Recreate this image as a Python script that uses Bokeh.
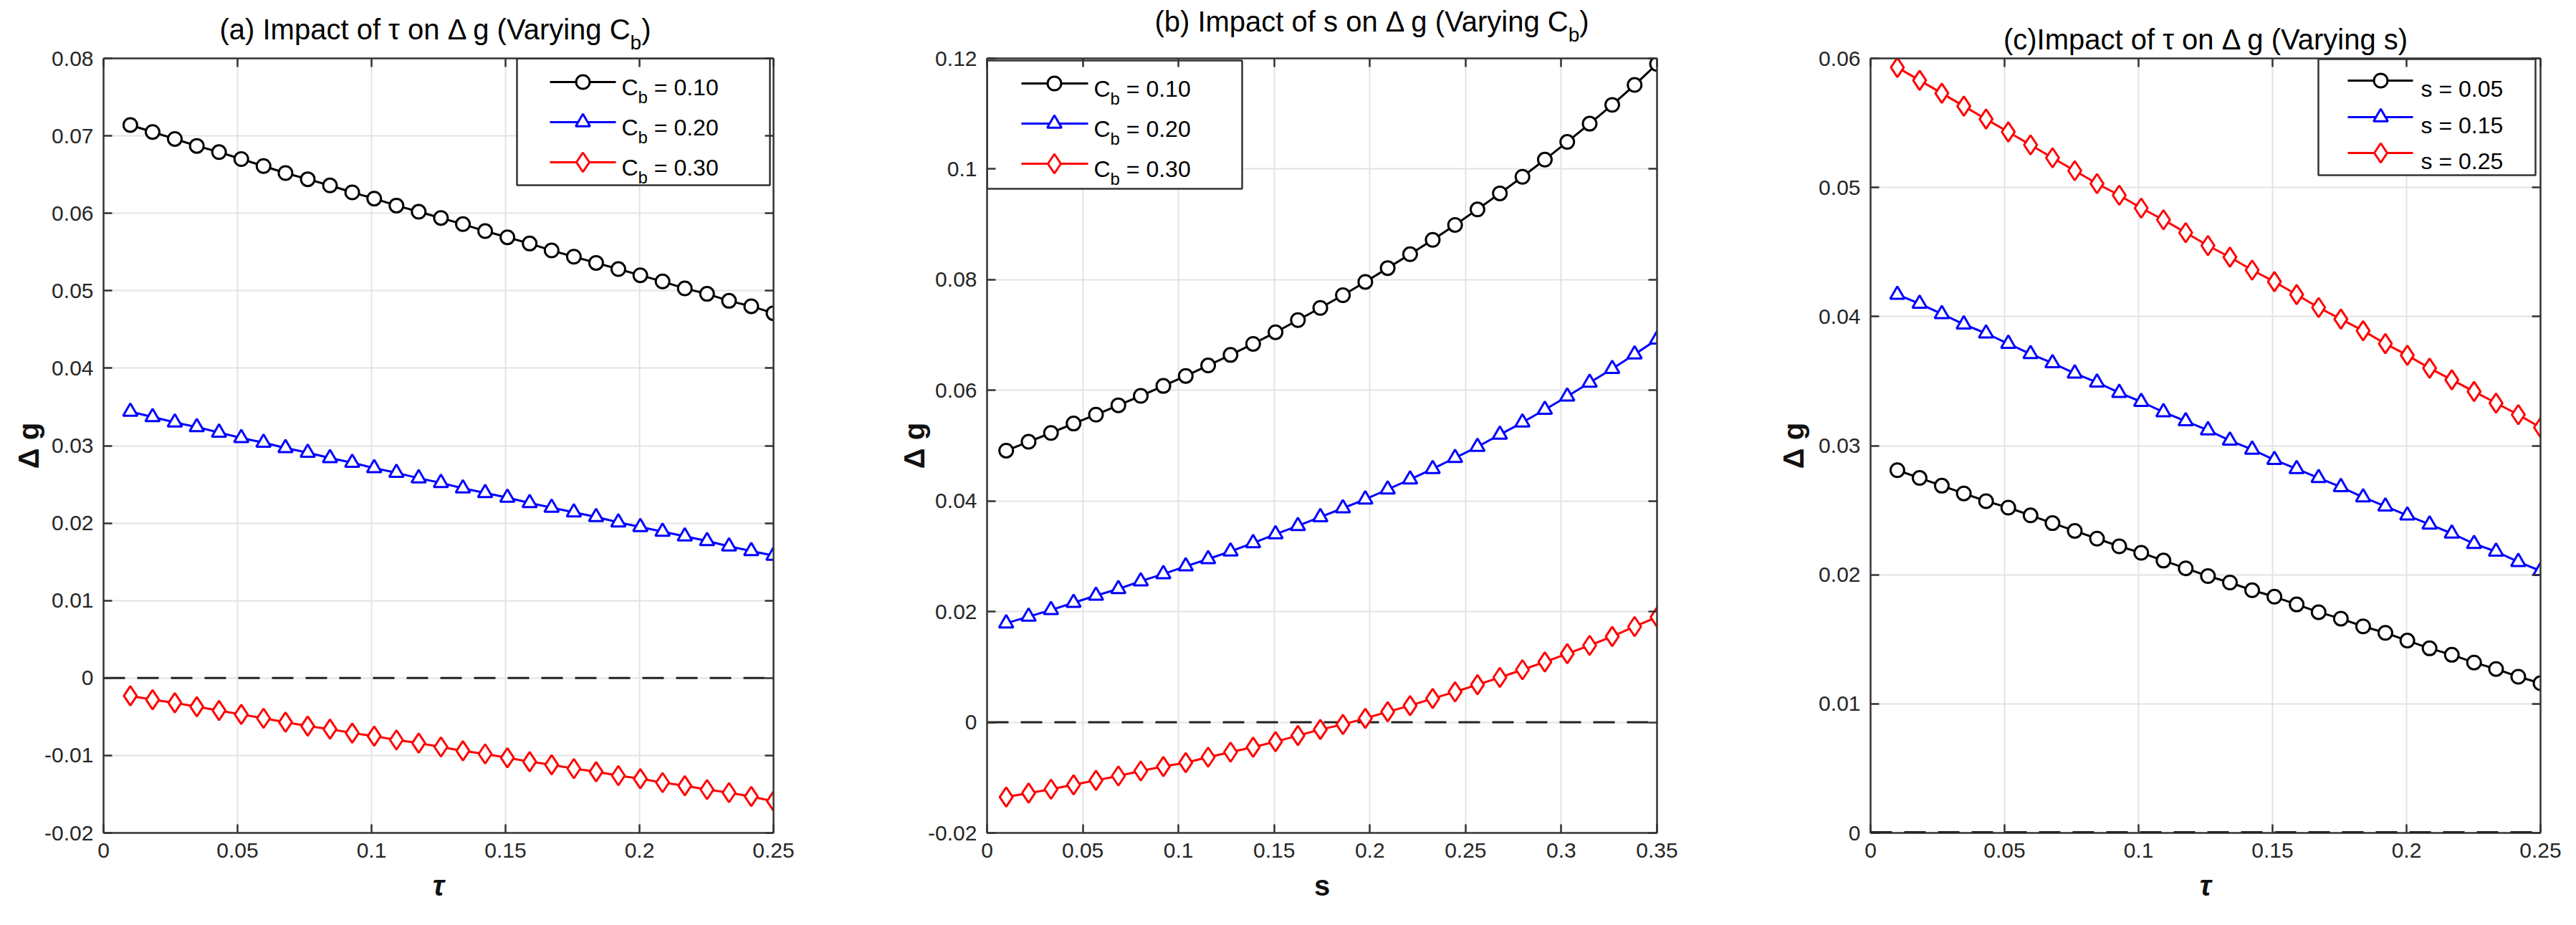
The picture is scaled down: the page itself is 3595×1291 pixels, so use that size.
from bokeh.plotting import figure
from bokeh.models import FixedTicker, LinearAxis, Label, Span, Range1d, Div
from bokeh.layouts import row, column
from bokeh.embed import file_html
from bokeh.resources import INLINE

# ---------------- data ----------------
tau = [0.0100, 0.0183, 0.0266, 0.0348, 0.0431, 0.0514, 0.0597, 0.0679, 0.0762, 0.0845,
       0.0928, 0.1010, 0.1093, 0.1176, 0.1259, 0.1341, 0.1424, 0.1507, 0.1590, 0.1672,
       0.1755, 0.1838, 0.1921, 0.2003, 0.2086, 0.2169, 0.2252, 0.2334, 0.2417, 0.2500]
s_grid = [0.0100, 0.0217, 0.0334, 0.0452, 0.0569, 0.0686, 0.0803, 0.0921, 0.1038, 0.1155,
          0.1272, 0.1390, 0.1507, 0.1624, 0.1741, 0.1859, 0.1976, 0.2093, 0.2210, 0.2328,
          0.2445, 0.2562, 0.2679, 0.2797, 0.2914, 0.3031, 0.3148, 0.3266, 0.3383, 0.3500]

# (a) impact of tau, varying Cb
dg_a_cb010 = [0.0714, 0.0705, 0.0696, 0.0687, 0.0679, 0.0670, 0.0661, 0.0652, 0.0644, 0.0636,
              0.0627, 0.0619, 0.0610, 0.0602, 0.0594, 0.0586, 0.0577, 0.0569, 0.0561, 0.0552,
              0.0544, 0.0536, 0.0528, 0.0520, 0.0512, 0.0503, 0.0496, 0.0487, 0.0480, 0.0471]
dg_a_cb020 = [0.0344, 0.0337, 0.0330, 0.0324, 0.0317, 0.0310, 0.0304, 0.0297, 0.0291, 0.0284,
              0.0278, 0.0271, 0.0265, 0.0258, 0.0252, 0.0245, 0.0239, 0.0233, 0.0226, 0.0220,
              0.0214, 0.0208, 0.0201, 0.0195, 0.0189, 0.0183, 0.0177, 0.0170, 0.0164, 0.0158]
dg_a_cb030 = [-0.0023, -0.0028, -0.0032, -0.0037, -0.0042, -0.0047, -0.0052, -0.0057, -0.0062, -0.0066,
              -0.0071, -0.0075, -0.0080, -0.0084, -0.0089, -0.0094, -0.0098, -0.0103, -0.0108, -0.0112,
              -0.0117, -0.0121, -0.0126, -0.0130, -0.0135, -0.0139, -0.0144, -0.0148, -0.0153, -0.0159]

# (b) impact of s, varying Cb
dg_b_cb010 = [0.0491, 0.0507, 0.0523, 0.0540, 0.0556, 0.0573, 0.0590, 0.0608, 0.0626, 0.0645,
              0.0664, 0.0684, 0.0705, 0.0727, 0.0749, 0.0772, 0.0796, 0.0821, 0.0846, 0.0872,
              0.0899, 0.0927, 0.0956, 0.0986, 0.1017, 0.1049, 0.1082, 0.1116, 0.1152, 0.1190]
dg_b_cb020 = [0.0179, 0.0191, 0.0203, 0.0216, 0.0229, 0.0241, 0.0255, 0.0268, 0.0282, 0.0295,
              0.0309, 0.0324, 0.0340, 0.0355, 0.0371, 0.0387, 0.0403, 0.0421, 0.0439, 0.0458,
              0.0478, 0.0498, 0.0520, 0.0542, 0.0565, 0.0589, 0.0614, 0.0639, 0.0665, 0.0692]
dg_b_cb030 = [-0.0135, -0.0128, -0.0121, -0.0113, -0.0105, -0.0097, -0.0088, -0.0080, -0.0073, -0.0063,
              -0.0054, -0.0045, -0.0035, -0.0024, -0.0013, -0.0004, 0.0007, 0.0019, 0.0030, 0.0043,
              0.0055, 0.0068, 0.0081, 0.0095, 0.0109, 0.0124, 0.0139, 0.0155, 0.0173, 0.0190]

# (c) impact of tau, varying s
dg_c_s005 = [0.0281, 0.0275, 0.0269, 0.0263, 0.0257, 0.0252, 0.0246, 0.0240, 0.0234, 0.0228,
             0.0222, 0.0217, 0.0211, 0.0205, 0.0199, 0.0194, 0.0188, 0.0183, 0.0177, 0.0171,
             0.0166, 0.0160, 0.0155, 0.0149, 0.0143, 0.0138, 0.0132, 0.0127, 0.0121, 0.0116]
dg_c_s015 = [0.0417, 0.0410, 0.0402, 0.0394, 0.0387, 0.0379, 0.0371, 0.0364, 0.0356, 0.0349,
             0.0341, 0.0334, 0.0326, 0.0319, 0.0312, 0.0304, 0.0297, 0.0289, 0.0282, 0.0275,
             0.0268, 0.0260, 0.0253, 0.0246, 0.0239, 0.0232, 0.0224, 0.0218, 0.0210, 0.0203]
dg_c_s025 = [0.0593, 0.0583, 0.0573, 0.0563, 0.0553, 0.0543, 0.0533, 0.0523, 0.0513, 0.0503,
             0.0494, 0.0484, 0.0475, 0.0465, 0.0455, 0.0446, 0.0436, 0.0427, 0.0417, 0.0407,
             0.0398, 0.0389, 0.0379, 0.0370, 0.0360, 0.0351, 0.0342, 0.0333, 0.0324, 0.0314]

cb_values = ["= 0.10", "= 0.20", "= 0.30"]
s_legend = ["s = 0.05", "s = 0.15", "s = 0.25"]

xticks_tau = [0.0, 0.05, 0.1, 0.15, 0.2, 0.25]
xlabels_tau = ["0", "0.05", "0.1", "0.15", "0.2", "0.25"]
xticks_s = [0.0, 0.05, 0.1, 0.15, 0.2, 0.25, 0.3, 0.35]
xlabels_s = ["0", "0.05", "0.1", "0.15", "0.2", "0.25", "0.3", "0.35"]
yticks_a = [-0.02, -0.01, 0.0, 0.01, 0.02, 0.03, 0.04, 0.05, 0.06, 0.07, 0.08]
ylabels_a = ["-0.02", "-0.01", "0", "0.01", "0.02", "0.03", "0.04", "0.05", "0.06", "0.07", "0.08"]
yticks_b = [-0.02, 0.0, 0.02, 0.04, 0.06, 0.08, 0.1, 0.12]
ylabels_b = ["-0.02", "0", "0.02", "0.04", "0.06", "0.08", "0.1", "0.12"]
yticks_c = [0.0, 0.01, 0.02, 0.03, 0.04, 0.05, 0.06]
ylabels_c = ["0", "0.01", "0.02", "0.03", "0.04", "0.05", "0.06"]

title_a = ("(a) Impact of τ on Δ g (Varying C", "b", ")")
title_b = ("(b) Impact of s on Δ g (Varying C", "b", ")")
title_c = ("(c)Impact of τ on Δ g (Varying s)", "", "")

# ---------------- styling ----------------
FONT = "Liberation Sans"
AX = "#333333"
TXT = "#262626"
FRAME_W, FRAME_H = 935, 1081
TOP = 89            # page y of frame top
HT = 61             # height of the title strip (page y 8 .. 69)
TOPB = TOP - 8 - HT  # top border of each panel
LW = 3
MK = {"circle": 19, "triangle": 20, "diamond": 27}


def label(p, x, y, text, size, align="left", style="normal", color="#000000"):
    p.add_layout(Label(x=x, y=y, x_units="data", y_units="data", text=text,
                       text_font=FONT, text_font_size=f"{size}px", text_font_style=style,
                       text_color=color, text_align=align, text_baseline="alphabetic"))


def build(frame_left, xr, yr, xt, xl, yt, yl, xlab, xstyle, min_right, ylab_standoff):
    p = figure(frame_width=FRAME_W, frame_height=FRAME_H,
               x_range=Range1d(*xr), y_range=Range1d(*yr),
               output_backend="svg", toolbar_location=None,
               min_border_left=144, min_border_right=min_right,
               min_border_top=TOPB, min_border_bottom=110,
               background_fill_color="white", border_fill_color=None,
               outline_line_color=None)
    xax = p.below[0]
    yax = p.left[0]
    xtk = FixedTicker(ticks=xt)
    ytk = FixedTicker(ticks=yt)
    xax.ticker = xtk
    yax.ticker = ytk
    xax.major_label_overrides = dict(zip(xt, xl))
    yax.major_label_overrides = dict(zip(yt, yl))
    top_ax = LinearAxis(ticker=xtk, major_label_overrides={t: "" for t in xt})
    right_ax = LinearAxis(ticker=ytk, major_label_overrides={t: "" for t in yt})
    for ax in (xax, yax, top_ax, right_ax):
        ax.axis_line_color = AX
        ax.axis_line_width = 2.5
        ax.major_tick_line_color = AX
        ax.major_tick_line_width = 2.5
        ax.major_tick_in = 12
        ax.major_tick_out = 0
        ax.minor_tick_line_color = None
        ax.major_label_text_font = FONT
        ax.major_label_text_font_size = "30px"
        ax.major_label_text_color = TXT
        ax.major_label_standoff = 14
    for ax in (top_ax, right_ax):
        ax.major_label_text_font_size = "0px"
        ax.major_label_standoff = 0
    p.add_layout(top_ax, "above")
    p.add_layout(right_ax, "right")
    xax.axis_label = xlab
    xax.axis_label_text_font = FONT
    xax.axis_label_text_font_size = "40px"
    xax.axis_label_text_font_style = xstyle
    xax.axis_label_text_color = "#111111"
    xax.axis_label_standoff = 14
    yax.axis_label = "Δ g"
    yax.axis_label_text_font = FONT
    yax.axis_label_text_font_size = "40px"
    yax.axis_label_text_font_style = "bold"
    yax.axis_label_text_color = "#111111"
    yax.axis_label_standoff = ylab_standoff
    p.xgrid.ticker = xtk
    p.ygrid.ticker = ytk
    p.xgrid.grid_line_color = "#e3e3e3"
    p.ygrid.grid_line_color = "#e3e3e3"
    p.xgrid.grid_line_width = 2
    p.ygrid.grid_line_width = 2

    def X(px):
        return xr[0] + (px - frame_left) / FRAME_W * (xr[1] - xr[0])

    def Y(py):
        return yr[1] - (py - TOP) / FRAME_H * (yr[1] - yr[0])

    return p, X, Y


def title_div(width, fig_left, center_px, baseline_px, parts):
    main, sub, tail = parts
    left = center_px - fig_left - 450
    top = baseline_px - 8 - 34
    sub_html = (f'<span style="font-size:28px;position:relative;top:14px;">{sub}</span>'
                if sub else "")
    html = (f'<div style="position:relative;width:{width}px;height:{HT}px;overflow:visible;">'
            f'<div style="position:absolute;left:{left:.1f}px;top:{top:.1f}px;width:900px;'
            f"text-align:center;font-family:'{FONT}';font-size:40px;line-height:40px;"
            f'white-space:nowrap;color:#000000;">{main}{sub_html}{tail}</div></div>')
    return Div(text=html, width=width, height=HT, margin=0,
               styles={"overflow": "visible", "z-index": "1"})


def series(p, x, y, color, marker):
    p.line(x, y, line_color=color, line_width=LW)
    p.scatter(x, y, marker=marker, size=MK[marker], line_color=color,
              fill_color="white", line_width=LW)


def zero_line(p, level, width=3):
    p.add_layout(Span(location=0, dimension="width", line_color="#222222",
                      line_width=width, line_dash="30 17", level=level))


def legend(p, X, Y, box, ys, offs, entries, with_sub, base_dy):
    l, t, r, b = box
    p.quad(left=[X(l)], right=[X(r)], top=[Y(t)], bottom=[Y(b)],
           fill_color="white", line_color=AX, line_width=2.5)
    lx0, lx1, mx, tx = offs
    for (color, marker, lab), ly in zip(entries, ys):
        p.line([X(l + lx0), X(l + lx1)], [Y(ly), Y(ly)], line_color=color, line_width=LW)
        p.scatter([X(l + mx)], [Y(ly)], marker=marker, size=MK[marker],
                  line_color=color, fill_color="white", line_width=LW)
        x0 = l + tx
        if with_sub:
            label(p, X(x0), Y(ly + base_dy), "C", 32)
            label(p, X(x0 + 0.722 * 32), Y(ly + 21), "b", 24)
            label(p, X(x0 + 0.722 * 32 + 0.556 * 24 + 0.278 * 32), Y(ly + base_dy), lab, 32)
        else:
            label(p, X(x0), Y(ly + base_dy), lab, 32)


colors = ["#000000", "#0000ff", "#ff0000"]
markers = ["circle", "triangle", "diamond"]
W1, W2, W3 = 144 + FRAME_W + 154, 144 + FRAME_W + 154, 144 + FRAME_W + 30

# ---------------- panel (a) ----------------
pa, Xa, Ya = build(152, (0, 0.25), (-0.02, 0.08), xticks_tau, xlabels_tau,
                   yticks_a, ylabels_a, "τ", "bold italic", 154, -3)
zero_line(pa, "underlay")
for ys_, c, m in zip((dg_a_cb010, dg_a_cb020, dg_a_cb030), colors, markers):
    series(pa, tau, ys_, c, m)
legend(pa, Xa, Ya, (729, 89, 1082, 266), (122, 178, 234), (46, 138, 92, 146),
       list(zip(colors, markers, cb_values)), True, 7)
ta = title_div(W1, 8, 615.5, 63, title_a)

# ---------------- panel (b) ----------------
pb, Xb, Yb = build(1385, (0, 0.35), (-0.02, 0.12), xticks_s, xlabels_s,
                   yticks_b, ylabels_b, "s", "bold", 154, -6)
zero_line(pb, "underlay")
for ys_, c, m in zip((dg_b_cb010, dg_b_cb020, dg_b_cb030), colors, markers):
    series(pb, s_grid, ys_, c, m)
legend(pb, Xb, Yb, (1385, 92, 1741, 271), (124, 180, 236), (48, 141, 94, 149),
       list(zip(colors, markers, cb_values)), True, 7)
tb = title_div(W2, 8 + W1, 1922.5, 52, title_b)

# ---------------- panel (c) ----------------
pc, Xc, Yc = build(2618, (0, 0.25), (0, 0.06), xticks_tau, xlabels_tau,
                   yticks_c, ylabels_c, "τ", "bold italic", 30, 10)
zero_line(pc, "annotation", 5)
for ys_, c, m in zip((dg_c_s005, dg_c_s015, dg_c_s025), colors, markers):
    series(pc, tau, ys_, c, m)
legend(pc, Xc, Yc, (3243, 90, 3546, 252), (120, 171, 221), (41, 132, 87, 143),
       list(zip(colors, markers, s_legend)), False, 11)
tc = title_div(W3, 8 + W1 + W2, 3086, 77, title_c)

layout = row(column(ta, pa, spacing=0), column(tb, pb, spacing=0),
             column(tc, pc, spacing=0), spacing=0)
open("out.html", "w").write(file_html(layout, INLINE))
